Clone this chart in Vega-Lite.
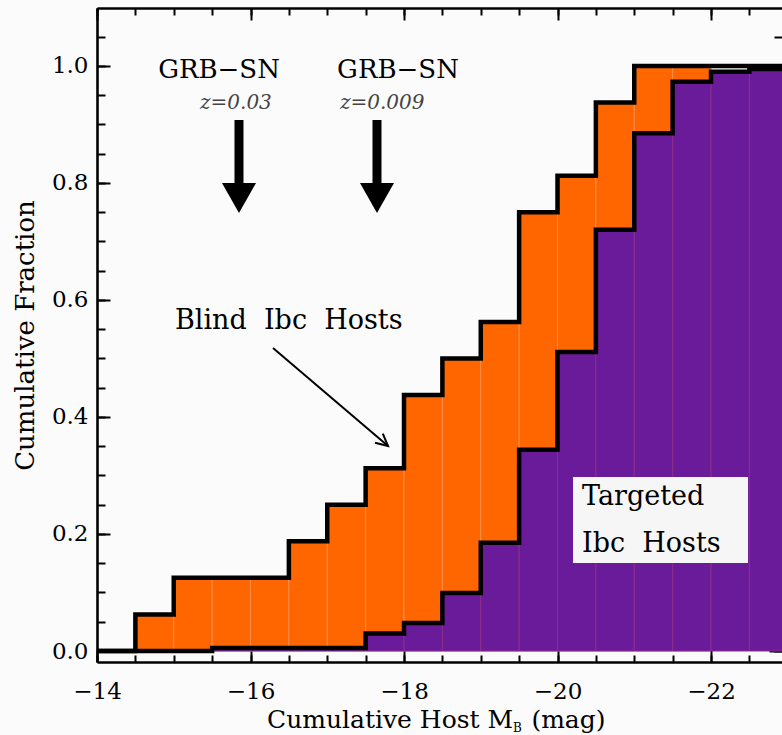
{
  "$schema": "https://vega.github.io/schema/vega-lite/v6.json",
  "width": 685,
  "height": 654,
  "autosize": "none",
  "padding": {"left": 97, "top": 8, "right": 0, "bottom": 73},
  "background": "#fbfbfb",
  "data": {"values": [{}]},
  "datasets": {
    "blindBins": [
      {"lo": -14.5, "hi": -15.0, "frac": 0.0625},
      {"lo": -15.0, "hi": -15.5, "frac": 0.125},
      {"lo": -15.5, "hi": -16.0, "frac": 0.125},
      {"lo": -16.0, "hi": -16.5, "frac": 0.125},
      {"lo": -16.5, "hi": -17.0, "frac": 0.1875},
      {"lo": -17.0, "hi": -17.5, "frac": 0.25},
      {"lo": -17.5, "hi": -18.0, "frac": 0.3125},
      {"lo": -18.0, "hi": -18.5, "frac": 0.4375},
      {"lo": -18.5, "hi": -19.0, "frac": 0.5},
      {"lo": -19.0, "hi": -19.5, "frac": 0.5625},
      {"lo": -19.5, "hi": -20.0, "frac": 0.75},
      {"lo": -20.0, "hi": -20.5, "frac": 0.8125},
      {"lo": -20.5, "hi": -21.0, "frac": 0.9375},
      {"lo": -21.0, "hi": -21.5, "frac": 1.0},
      {"lo": -21.5, "hi": -22.0, "frac": 1.0}
    ],
    "targBins": [
      {"lo": -15.5, "hi": -16.0, "frac": 0.005},
      {"lo": -16.0, "hi": -16.5, "frac": 0.005},
      {"lo": -16.5, "hi": -17.0, "frac": 0.005},
      {"lo": -17.0, "hi": -17.5, "frac": 0.005},
      {"lo": -17.5, "hi": -18.0, "frac": 0.03},
      {"lo": -18.0, "hi": -18.5, "frac": 0.048},
      {"lo": -18.5, "hi": -19.0, "frac": 0.099},
      {"lo": -19.0, "hi": -19.5, "frac": 0.185},
      {"lo": -19.5, "hi": -20.0, "frac": 0.344},
      {"lo": -20.0, "hi": -20.5, "frac": 0.511},
      {"lo": -20.5, "hi": -21.0, "frac": 0.72},
      {"lo": -21.0, "hi": -21.5, "frac": 0.885},
      {"lo": -21.5, "hi": -22.0, "frac": 0.973},
      {"lo": -22.0, "hi": -22.5, "frac": 0.99},
      {"lo": -22.5, "hi": -23.0, "frac": 0.995}
    ],
    "blindLine": [
      {"mag": -14.0, "frac": 0},
      {"mag": -14.5, "frac": 0.0625},
      {"mag": -15.0, "frac": 0.125},
      {"mag": -16.5, "frac": 0.1875},
      {"mag": -17.0, "frac": 0.25},
      {"mag": -17.5, "frac": 0.3125},
      {"mag": -18.0, "frac": 0.4375},
      {"mag": -18.5, "frac": 0.5},
      {"mag": -19.0, "frac": 0.5625},
      {"mag": -19.5, "frac": 0.75},
      {"mag": -20.0, "frac": 0.8125},
      {"mag": -20.5, "frac": 0.9375},
      {"mag": -21.0, "frac": 1.0},
      {"mag": -23.0, "frac": 1.0}
    ],
    "targLine": [
      {"mag": -14.0, "frac": 0},
      {"mag": -15.5, "frac": 0.005},
      {"mag": -17.5, "frac": 0.03},
      {"mag": -18.0, "frac": 0.048},
      {"mag": -18.5, "frac": 0.099},
      {"mag": -19.0, "frac": 0.185},
      {"mag": -19.5, "frac": 0.344},
      {"mag": -20.0, "frac": 0.511},
      {"mag": -20.5, "frac": 0.72},
      {"mag": -21.0, "frac": 0.885},
      {"mag": -21.5, "frac": 0.973},
      {"mag": -22.0, "frac": 0.99},
      {"mag": -22.5, "frac": 0.995},
      {"mag": -23.0, "frac": 0.995}
    ]
  },
  "config": {
    "view": {"stroke": null},
    "axis": {
      "grid": false,
      "domainColor": "black",
      "domainWidth": 2.6,
      "tickColor": "black",
      "tickWidth": 2,
      "labelFont": "DejaVu Serif",
      "labelFontSize": 23,
      "labelColor": "black",
      "titleFont": "DejaVu Serif",
      "titleFontWeight": "normal",
      "titleColor": "black",
      "labelOverlap": false,
      "labelFlush": false,
      "labelBound": false
    }
  },
  "resolve": {"axis": {"x": "independent", "y": "independent"}},
  "layer": [
    {
      "data": {"name": "blindBins"},
      "mark": {"type": "bar", "fill": "#ff6600", "stroke": "#ff8c45", "strokeWidth": 1, "clip": true},
      "encoding": {
        "x": {
          "field": "lo", "type": "quantitative",
          "scale": {"domain": [-14, -22.925], "nice": false, "zero": false},
          "axis": {
            "orient": "bottom",
            "values": [-14, -14.5, -15, -15.5, -16, -16.5, -17, -17.5, -18, -18.5, -19, -19.5, -20, -20.5, -21, -21.5, -22, -22.5],
            "labelExpr": "round(datum.value*2) % 4 === 0 ? format(datum.value, 'd') : ''",
            "tickSize": -7,
            "labelPadding": 25,
            "title": null
          }
        },
        "x2": {"field": "hi"},
        "y": {
          "field": "frac", "type": "quantitative",
          "scale": {"domain": [-0.0188, 1.0991], "nice": false, "zero": false},
          "axis": {
            "orient": "left",
            "values": [0, 0.05, 0.1, 0.15, 0.2, 0.25, 0.3, 0.35, 0.4, 0.45, 0.5, 0.55, 0.6, 0.65, 0.7, 0.75, 0.8, 0.85, 0.9, 0.95, 1.0, 1.05],
            "labelExpr": "round(datum.value*20) % 4 === 0 ? format(datum.value, '.1f') : ''",
            "tickSize": -8,
            "labelPadding": 17,
            "title": "Cumulative Fraction",
            "titleFontSize": 26,
            "titlePadding": 13
          }
        },
        "y2": {"datum": 0}
      }
    },
    {
      "data": {"name": "targBins"},
      "mark": {"type": "bar", "fill": "#6a1b9a", "stroke": "#8c2c8a", "strokeWidth": 1, "clip": true},
      "encoding": {
        "x": {"field": "lo", "type": "quantitative", "axis": null},
        "x2": {"field": "hi"},
        "y": {"field": "frac", "type": "quantitative", "axis": null},
        "y2": {"datum": 0}
      }
    },
    {
      "data": {"name": "targLine"},
      "mark": {"type": "line", "interpolate": "step-after", "color": "black", "strokeWidth": 4.5, "strokeJoin": "miter", "strokeCap": "square", "clip": true},
      "encoding": {
        "x": {"field": "mag", "type": "quantitative", "axis": null},
        "y": {"field": "frac", "type": "quantitative", "axis": null},
        "order": {"field": "mag", "sort": "descending"}
      }
    },
    {
      "data": {"name": "blindLine"},
      "mark": {"type": "line", "interpolate": "step-after", "color": "black", "strokeWidth": 4.5, "strokeJoin": "miter", "strokeCap": "square", "clip": true},
      "encoding": {
        "x": {"field": "mag", "type": "quantitative", "axis": null},
        "y": {"field": "frac", "type": "quantitative", "axis": null},
        "order": {"field": "mag", "sort": "descending"}
      }
    },
    {
      "mark": {"type": "text", "text": "GRB−SN", "font": "DejaVu Serif", "fontSize": 26, "align": "center", "baseline": "alphabetic", "color": "black"},
      "encoding": {
        "x": {"datum": -15.59, "type": "quantitative", "axis": null},
        "y": {"datum": 0.9795, "type": "quantitative", "axis": null}
      }
    },
    {
      "mark": {"type": "text", "text": "GRB−SN", "font": "DejaVu Serif", "fontSize": 26, "align": "center", "baseline": "alphabetic", "color": "black"},
      "encoding": {
        "x": {"datum": -17.922, "type": "quantitative", "axis": null},
        "y": {"datum": 0.9795, "type": "quantitative", "axis": null}
      }
    },
    {
      "mark": {"type": "text", "text": "z=0.03", "font": "DejaVu Serif", "fontSize": 20, "fontStyle": "italic", "align": "left", "baseline": "alphabetic", "color": "#444444"},
      "encoding": {
        "x": {"datum": -15.342, "type": "quantitative", "axis": null},
        "y": {"datum": 0.9265, "type": "quantitative", "axis": null}
      }
    },
    {
      "mark": {"type": "text", "text": "z=0.009", "font": "DejaVu Serif", "fontSize": 20, "fontStyle": "italic", "align": "left", "baseline": "alphabetic", "color": "#444444"},
      "encoding": {
        "x": {"datum": -17.166, "type": "quantitative", "axis": null},
        "y": {"datum": 0.9265, "type": "quantitative", "axis": null}
      }
    },
    {
      "mark": {"type": "rule", "color": "black", "strokeWidth": 9, "strokeCap": "butt"},
      "encoding": {
        "x": {"datum": -15.85, "type": "quantitative", "axis": null},
        "y": {"datum": 0.9077, "type": "quantitative", "axis": null},
        "y2": {"datum": 0.79}
      }
    },
    {
      "mark": {"type": "rule", "color": "black", "strokeWidth": 9, "strokeCap": "butt"},
      "encoding": {
        "x": {"datum": -17.648, "type": "quantitative", "axis": null},
        "y": {"datum": 0.9077, "type": "quantitative", "axis": null},
        "y2": {"datum": 0.79}
      }
    },
    {
      "mark": {"type": "point", "shape": "M-1,-0.88L1,-0.88L0,0.88Z", "size": 1156, "filled": true, "color": "black", "opacity": 1, "strokeWidth": 0},
      "encoding": {
        "x": {"datum": -15.85, "type": "quantitative", "axis": null},
        "y": {"datum": 0.7744, "type": "quantitative", "axis": null}
      }
    },
    {
      "mark": {"type": "point", "shape": "M-1,-0.88L1,-0.88L0,0.88Z", "size": 1156, "filled": true, "color": "black", "opacity": 1, "strokeWidth": 0},
      "encoding": {
        "x": {"datum": -17.648, "type": "quantitative", "axis": null},
        "y": {"datum": 0.7744, "type": "quantitative", "axis": null}
      }
    },
    {
      "mark": {"type": "text", "text": "Blind\u00a0\u00a0Ibc\u00a0\u00a0Hosts", "font": "DejaVu Serif", "fontSize": 27, "align": "left", "baseline": "alphabetic", "color": "black"},
      "encoding": {
        "x": {"datum": -15.016, "type": "quantitative", "axis": null},
        "y": {"datum": 0.5504, "type": "quantitative", "axis": null}
      }
    },
    {
      "mark": {"type": "rule", "color": "black", "strokeWidth": 2},
      "encoding": {
        "x": {"datum": -16.293, "type": "quantitative", "axis": null},
        "y": {"datum": 0.5179, "type": "quantitative", "axis": null},
        "x2": {"datum": -17.792},
        "y2": {"datum": 0.3504}
      }
    },
    {
      "mark": {"type": "point", "shape": "M-1,-0.5L0,0L-1,0.5", "size": 576, "filled": false, "color": "black", "opacity": 1, "strokeWidth": 2, "angle": 40.4},
      "encoding": {
        "x": {"datum": -17.792, "type": "quantitative", "axis": null},
        "y": {"datum": 0.3504, "type": "quantitative", "axis": null}
      }
    },
    {
      "mark": {"type": "rect", "fill": "#f6f6f6"},
      "encoding": {
        "x": {"datum": -20.202, "type": "quantitative", "axis": null},
        "x2": {"datum": -22.482},
        "y": {"datum": 0.2974, "type": "quantitative", "axis": null},
        "y2": {"datum": 0.1504}
      }
    },
    {
      "mark": {"type": "text", "text": "Targeted", "font": "DejaVu Serif", "fontSize": 27, "align": "left", "baseline": "alphabetic", "color": "black"},
      "encoding": {
        "x": {"datum": -20.319, "type": "quantitative", "axis": null},
        "y": {"datum": 0.2496, "type": "quantitative", "axis": null}
      }
    },
    {
      "mark": {"type": "text", "text": "Ibc\u00a0\u00a0Hosts", "font": "DejaVu Serif", "fontSize": 27, "align": "left", "baseline": "alphabetic", "color": "black"},
      "encoding": {
        "x": {"datum": -20.319, "type": "quantitative", "axis": null},
        "y": {"datum": 0.1692, "type": "quantitative", "axis": null}
      }
    },
    {
      "mark": {"type": "text", "text": "Cumulative Host M", "font": "DejaVu Serif", "fontSize": 25, "align": "left", "baseline": "alphabetic", "color": "black"},
      "encoding": {
        "x": {"datum": -16.215, "type": "quantitative", "axis": null},
        "y": {"datum": -0.1316, "type": "quantitative", "axis": null}
      }
    },
    {
      "mark": {"type": "text", "text": "B", "font": "DejaVu Serif", "fontSize": 12, "align": "left", "baseline": "alphabetic", "color": "black"},
      "encoding": {
        "x": {"datum": -19.42, "type": "quantitative", "axis": null},
        "y": {"datum": -0.1385, "type": "quantitative", "axis": null}
      }
    },
    {
      "mark": {"type": "text", "text": "(mag)", "font": "DejaVu Serif", "fontSize": 25, "align": "left", "baseline": "alphabetic", "color": "black"},
      "encoding": {
        "x": {"datum": -19.66, "type": "quantitative", "axis": null},
        "y": {"datum": -0.1316, "type": "quantitative", "axis": null}
      }
    },
    {
      "data": {"name": "blindLine"},
      "mark": {"type": "point", "opacity": 0},
      "encoding": {
        "x": {
          "field": "mag", "type": "quantitative",
          "axis": {"orient": "bottom", "values": [-14, -16, -18, -20, -22], "tickSize": -12, "labels": false, "domain": false, "title": null}
        },
        "y": {
          "field": "frac", "type": "quantitative",
          "axis": {"orient": "left", "values": [0, 0.2, 0.4, 0.6, 0.8, 1.0], "tickSize": -13, "labels": false, "domain": false, "title": null}
        }
      }
    },
    {
      "data": {"name": "blindLine"},
      "mark": {"type": "point", "opacity": 0},
      "encoding": {
        "x": {
          "field": "mag", "type": "quantitative",
          "axis": {"orient": "top", "values": [-14, -14.5, -15, -15.5, -16, -16.5, -17, -17.5, -18, -18.5, -19, -19.5, -20, -20.5, -21, -21.5, -22, -22.5], "tickSize": -7, "labels": false, "title": null}
        },
        "y": {
          "field": "frac", "type": "quantitative",
          "axis": {"orient": "right", "values": [0, 0.05, 0.1, 0.15, 0.2, 0.25, 0.3, 0.35, 0.4, 0.45, 0.5, 0.55, 0.6, 0.65, 0.7, 0.75, 0.8, 0.85, 0.9, 0.95, 1.0, 1.05], "tickSize": -8, "labels": false, "domain": false, "title": null}
        }
      }
    },
    {
      "data": {"name": "blindLine"},
      "mark": {"type": "point", "opacity": 0},
      "encoding": {
        "x": {
          "field": "mag", "type": "quantitative",
          "axis": {"orient": "top", "values": [-14, -16, -18, -20, -22], "tickSize": -12, "labels": false, "domain": false, "title": null}
        },
        "y": {
          "field": "frac", "type": "quantitative",
          "axis": {"orient": "right", "values": [0, 0.2, 0.4, 0.6, 0.8, 1.0], "tickSize": -13, "labels": false, "domain": false, "title": null}
        }
      }
    }
  ]
}
